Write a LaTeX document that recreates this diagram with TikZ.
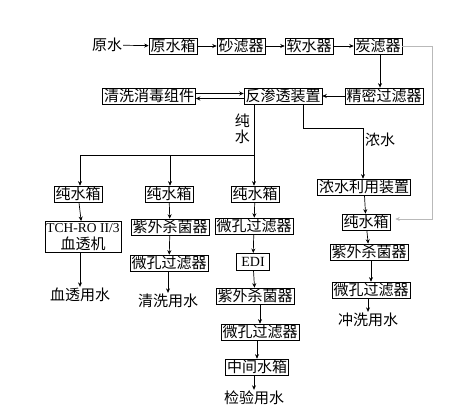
\documentclass[tikz,border=0pt]{standalone}
\usepackage{fontspec}
\newfontfamily\cjk{Noto Sans CJK SC}
\newfontfamily\lat{Liberation Serif}
\usetikzlibrary{arrows.meta}
\tikzset{unit/.style={draw,line width=.75pt,inner xsep=1.4pt,inner ysep=1pt,font=\cjk\fontsize{15}{17}\selectfont},
  word/.style={inner sep=1pt,font=\cjk\fontsize{15}{17}\selectfont},
  arrow/.style={-{Stealth[length=4.5pt,width=4pt]},line width=.7pt},
  feed/.style={arrow,draw=gray!55,line width=.6pt}}

\begin{document}
\begin{tikzpicture}[x=1pt,y=-1pt]
  \path[use as bounding box] (0,0) rectangle (463,407);
  % pretreatment
  \node[word] (raw) at (107,45) {原水};
  \node[unit] (rawtank) at (173,46) {原水箱};
  \node[unit] (sand) at (241,46) {砂滤器};
  \node[unit] (soft) at (309,46) {软水器};
  \node[unit] (carbon) at (378,46) {炭滤器};
  \node[unit] (fine) at (384,96) {精密过滤器};
  \node[unit] (ro) at (283,96) {反渗透装置};
  \node[unit] (clean) at (149,96) {清洗消毒组件};
  \foreach \a/\b in {raw/rawtank,rawtank/sand,sand/soft,soft/carbon,fine/ro}
    \draw[arrow] (\a) -- (\b);
  \draw[arrow] (carbon.south -| fine.center) ++(-4,0) coordinate (c1) -- (c1 |- fine.north);
  \draw[arrow] ([yshift=2.5pt]clean.east) -- ([yshift=2.5pt]ro.west);
  \draw[arrow] ([yshift=-2.5pt]ro.west) -- ([yshift=-2.5pt]clean.east);
  % pure water branches
  \node[unit,align=center] (tankA) at (78,194) {纯水箱};
  \node[unit,align=center,inner ysep=2pt] (dialyser) at (83,237) {{\lat\fontsize{13.5}{15}\selectfont TCH-RO II/3}\\血透机};
  \node[word] (useA) at (80,295) {血透用水};
  \node[unit] (tankB) at (169,194) {纯水箱};
  \node[unit] (uvB) at (170,227) {紫外杀菌器};
  \node[unit] (mfB) at (169,263) {微孔过滤器};
  \node[word] (useB) at (168,301) {清洗用水};
  \node[unit] (tankC) at (255,194) {纯水箱};
  \node[unit] (mfC) at (254,226) {微孔过滤器};
  \node[unit,font=\lat\fontsize{14}{16}\selectfont,inner xsep=5pt,inner ysep=4pt] (edi) at (253,262) {EDI};
  \node[unit] (uvC) at (255,296) {紫外杀菌器};
  \node[unit] (mfC2) at (260,332) {微孔过滤器};
  \node[unit] (midtank) at (257,367) {中间水箱};
  \node[word] (useC) at (254,398) {检验用水};
  % concentrate branch
  \node[unit] (reuse) at (364,187) {浓水利用装置};
  \node[unit] (tankD) at (366,222) {纯水箱};
  \node[unit] (uvD) at (369,252) {紫外杀菌器};
  \node[unit] (mfD) at (371,290) {微孔过滤器};
  \node[word] (useD) at (368,320) {冲洗用水};
  \coordinate (pure) at (254,155);
  \draw[line width=.7pt] (ro.south -| pure) -- (pure);
  \node[word,anchor=east] at (251,121) {纯};
  \node[word,anchor=east] at (251,137) {水};
  \foreach \n/\x in {tankA/80,tankB/170,tankC/254}
    \draw[arrow] (pure) -| (\x,155) -- (\x,0 |- \n.north);
  \draw[arrow] (ro.south -| 303,0) -- (303,128) -| (reuse.north -| 363,0);
  \node[word] at (380,140) {浓水};
  \foreach \a/\b in {tankA/dialyser,tankB/uvB,uvB/mfB,tankC/mfC,mfC/edi,edi/uvC,reuse/tankD,tankD/uvD}
    \draw[arrow] (\a) -- (\b);
  \foreach \a/\b in {uvC/mfC2,mfC2/midtank,midtank/useC,uvD/mfD,mfD/useD,mfB/useB}
    \draw[arrow] (\a.south -| \b) -- (\b.north);
  \draw[arrow] (dialyser.south -| 80,0) -- (useA.north -| 80,0);
  % carbon filter bypass
  \draw[feed,shorten >=5pt] (carbon.east) -- (432,46) -- (432,219) -- (tankD.east |- 0,219);
\end{tikzpicture}
\end{document}
